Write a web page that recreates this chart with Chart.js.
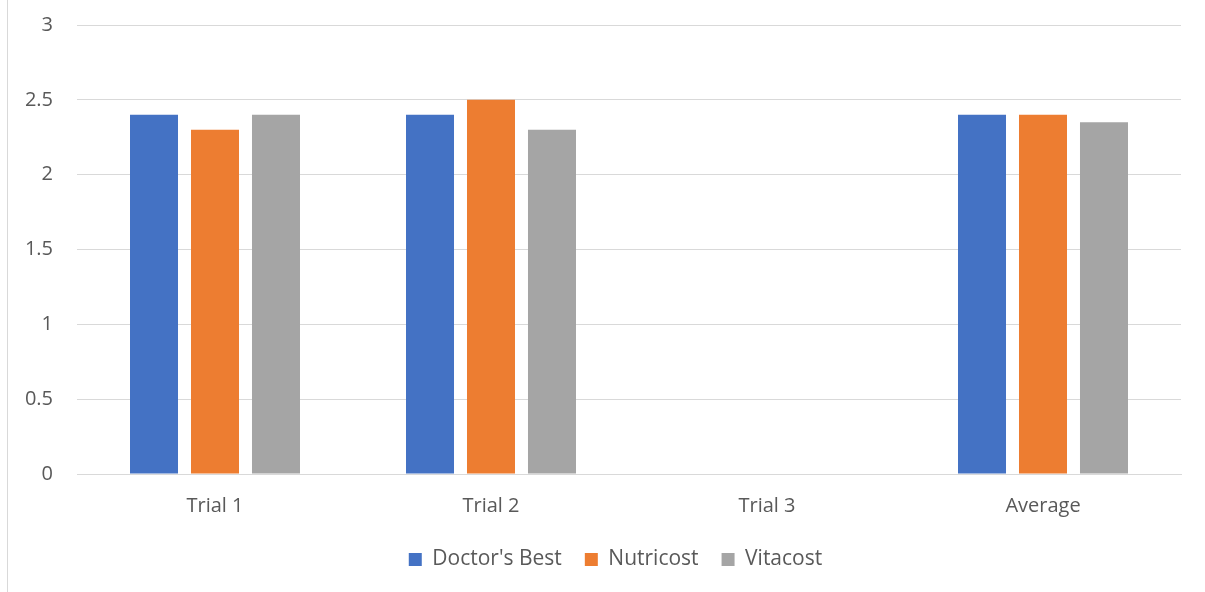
<!DOCTYPE html>
<html>
<head>
<meta charset="utf-8">
<script src="https://cdn.jsdelivr.net/npm/chart.js@4/dist/chart.umd.min.js"></script>
<style>
  html, body { margin: 0; padding: 0; background: #fff; }
  #wrap { width: 1205px; height: 592px; position: relative; }
</style>
</head>
<body>
<div id="wrap"><canvas id="c" width="1205" height="592"></canvas></div>
<script>
const categories = ["Trial 1", "Trial 2", "Trial 3", "Average"];
const seriesNames = ["Doctor's Best", "Nutricost", "Vitacost"];
const doctorsBest = [2.4, 2.4, null, 2.4];
const nutricost = [2.3, 2.5, null, 2.4];
const vitacost = [2.4, 2.3, null, 2.35];
const seriesColors = ["#4472C4", "#ED7D31", "#A5A5A5"];

const textColor = "#595959";
const fontFamily = "'Open Sans', 'Liberation Sans', sans-serif";

const leftBorder = {
  id: 'leftBorder',
  beforeDraw(chart) {
    const ctx = chart.ctx;
    ctx.save();
    ctx.strokeStyle = '#d9d9d9';
    ctx.lineWidth = 1;
    ctx.beginPath();
    ctx.moveTo(7.5, 0);
    ctx.lineTo(7.5, chart.height);
    ctx.stroke();
    ctx.restore();
  }
};

const legendShift = {
  id: 'legendShift',
  afterLayout(chart) {
    const lg = chart.legend;
    if (lg) { lg.left += 25; lg.right += 25; }
  }
};

new Chart(document.getElementById('c'), {
  type: 'bar',
  data: {
    labels: categories,
    datasets: [
      { label: seriesNames[0], data: doctorsBest, backgroundColor: seriesColors[0] },
      { label: seriesNames[1], data: nutricost, backgroundColor: seriesColors[1] },
      { label: seriesNames[2], data: vitacost, backgroundColor: seriesColors[2] }
    ]
  },
  options: {
    responsive: false,
    animation: false,
    devicePixelRatio: 1,
    layout: { padding: { left: 0, right: 24, top: 25, bottom: 12 } },
    datasets: { bar: { categoryPercentage: 0.663, barPercentage: 0.787 } },
    plugins: {
      legend: {
        position: 'bottom',
        labels: {
          color: textColor,
          font: { family: fontFamily, size: 21 },
          boxWidth: 13,
          boxHeight: 13,
          padding: 23
        }
      },
      tooltip: { enabled: false }
    },
    scales: {
      x: {
        grid: { display: false, drawTicks: false },
        border: { display: true, color: '#d9d9d9', width: 1 },
        ticks: { color: textColor, font: { family: fontFamily, size: 20 }, padding: 20 },
        afterFit(scale) { scale.height = 52; }
      },
      y: {
        min: 0, max: 3,
        grid: { color: '#d9d9d9', lineWidth: 1, drawTicks: false },
        border: { display: false },
        ticks: {
          stepSize: 0.5, color: textColor, font: { family: fontFamily, size: 20 }, padding: 24,
          callback: (v) => String(v)
        },
        afterFit(scale) { scale.width = 77; scale.paddingTop = 0; scale.paddingBottom = 0; }
      }
    }
  },
  plugins: [leftBorder, legendShift]
});
</script>
</body>
</html>
